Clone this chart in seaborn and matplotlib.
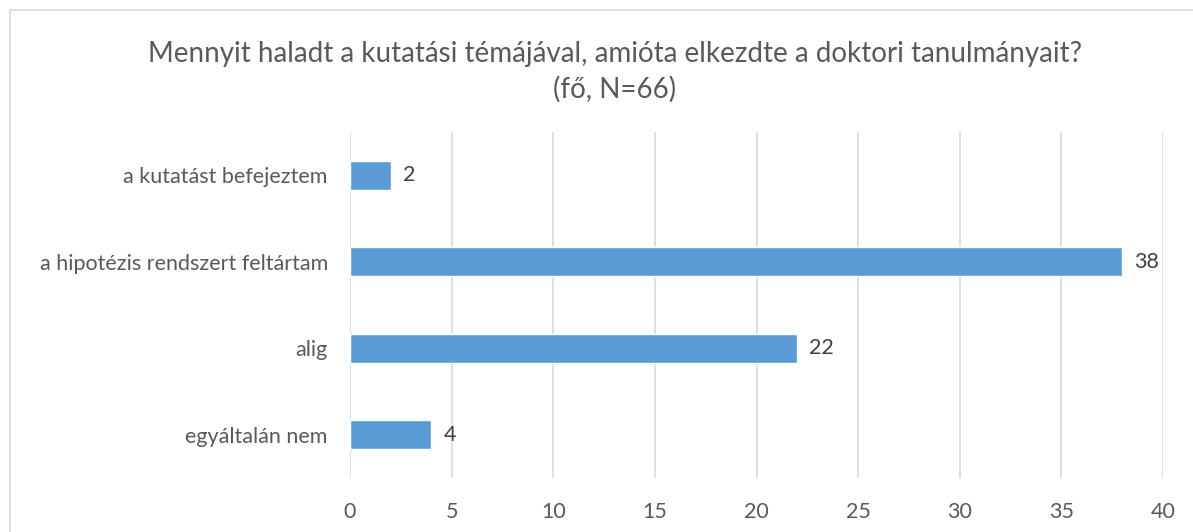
import seaborn as sns
import pandas as pd
import matplotlib.pyplot as plt
from matplotlib.patches import Rectangle

kategoriak = ['a kutatást befejeztem', 'a hipotézis rendszert feltártam', 'alig', 'egyáltalán nem']
ertekek = [2, 38, 22, 4]
x_tickek = [0, 5, 10, 15, 20, 25, 30, 35, 40]

df = pd.DataFrame({'Kategoria': kategoriak, 'Fo': ertekek})

sns.set_style("white")
plt.rcParams['font.family'] = ['Lato', 'DejaVu Sans']
szurke = '#595959'

fig = plt.figure(figsize=(11.93, 5.32), dpi=100)
ax = fig.add_axes([0.2934, 0.1015, 0.6815, 0.6504])

sns.barplot(data=df, y='Kategoria', x='Fo', color='#5B9BD5', width=0.34,
            saturation=1, ax=ax, zorder=3)

# értékcímkék a sávok mellett
for i, v in enumerate(ertekek):
    ax.text(v + 0.6, i, str(v), va='center', ha='left', fontsize=15.5, color='#404040')

ax.set_xlim(0, 40)
ax.set_ylim(3.5, -0.5)
ax.set_xticks(x_tickek)
ax.xaxis.grid(True, color='#D9D9D9', linewidth=1.2, zorder=0)
ax.yaxis.grid(False)
for s in ax.spines.values():
    s.set_visible(False)
ax.tick_params(axis='x', length=0, pad=17, labelsize=15.5, labelcolor=szurke)
ax.tick_params(axis='y', length=0, pad=16, labelsize=15.5, labelcolor=szurke)
ax.set_xlabel('')
ax.set_ylabel('')

fig.text(0.5155, 0.865, 'Mennyit haladt a kutatási témájával, amióta elkezdte a doktori tanulmányait?\n(fő, N=66)',
         ha='center', va='center', fontsize=20, color=szurke, linespacing=1.4)

# diagram kerete
fig.patches.append(Rectangle((10 / 1193, -0.05), 1.1, 1 - 10 / 532 + 0.05,
                             transform=fig.transFigure, fill=False,
                             edgecolor='#D9D9D9', linewidth=1.2))

plt.savefig('out.png', dpi=100)
